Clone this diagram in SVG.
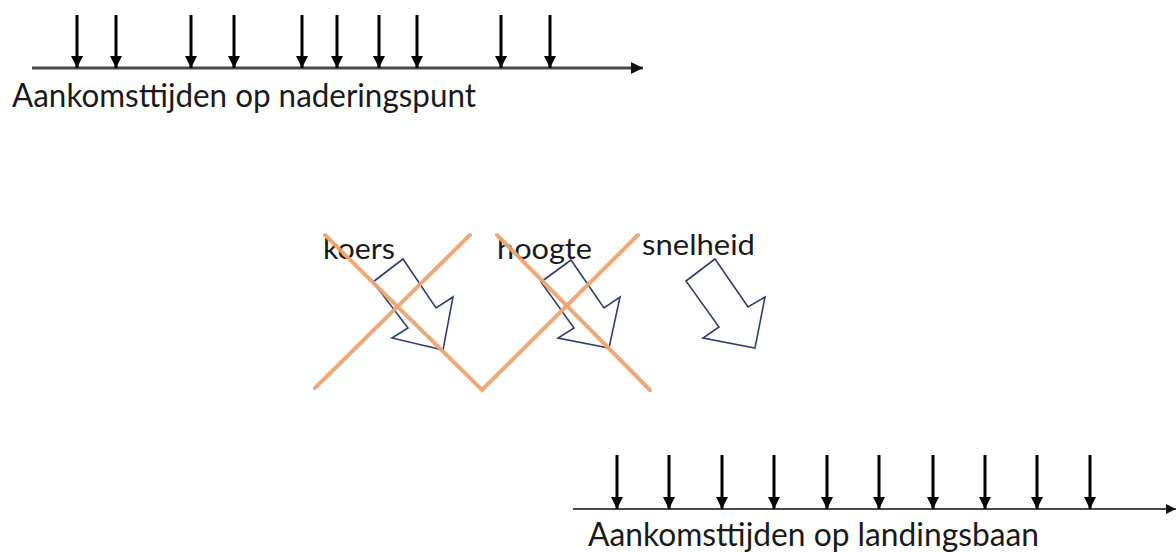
<svg xmlns="http://www.w3.org/2000/svg" width="1176" height="552" viewBox="0 0 1176 552">
<defs>
<style>
.lbl{font-family:Lato,"Open Sans","Liberation Sans",sans-serif;fill:#1a1a1a}
.axis{stroke:#4a4a4a;fill:none}
.tick{stroke:#000;stroke-width:3;fill:none}
.blk{fill:none;stroke:#2e3f6e;stroke-width:1.6;stroke-linejoin:miter}
.cross{stroke:#eda46f;stroke-width:4;fill:none;stroke-linecap:round;stroke-linejoin:miter;opacity:0.95}
</style>
<marker id="ah" viewBox="0 0 10 10" refX="10" refY="5" markerWidth="4" markerHeight="4.2" markerUnits="strokeWidth" orient="auto">
<path d="M0,0 L10,5 L0,10 z" fill="#000"/>
</marker>
<marker id="ax" viewBox="0 0 10 10" refX="10" refY="5" markerWidth="5" markerHeight="4" markerUnits="strokeWidth" orient="auto">
<path d="M0,0 L10,5 L0,10 z" fill="#111"/>
</marker>
<marker id="ax2" viewBox="0 0 10 10" refX="10" refY="5" markerWidth="6" markerHeight="5" markerUnits="strokeWidth" orient="auto">
<path d="M0,0 L10,5 L0,10 z" fill="#111"/>
</marker>
</defs>
<rect width="1176" height="552" fill="#fff"/>

<g id="top-timeline">
<line class="axis" x1="32" y1="68" x2="643" y2="68" stroke-width="3" marker-end="url(#ax)"/>
<g class="tick" marker-end="url(#ah)">
<line x1="77" y1="15" x2="77" y2="68"/>
<line x1="116" y1="15" x2="116" y2="68"/>
<line x1="191" y1="15" x2="191" y2="68"/>
<line x1="234" y1="15" x2="234" y2="68"/>
<line x1="302" y1="15" x2="302" y2="68"/>
<line x1="337" y1="15" x2="337" y2="68"/>
<line x1="379" y1="15" x2="379" y2="68"/>
<line x1="417" y1="15" x2="417" y2="68"/>
<line x1="501" y1="15" x2="501" y2="68"/>
<line x1="550" y1="15" x2="550" y2="68"/>
</g>
<text class="lbl" x="12" y="107" font-size="32" textLength="464" lengthAdjust="spacingAndGlyphs">Aankomsttijden op naderingspunt</text>
</g>

<g id="koers">
<polygon class="blk" points="373,282 403,259 436,308 453,297 443,350 392,338 408,328"/>
<text class="lbl" x="323" y="259" font-size="28" textLength="72" lengthAdjust="spacingAndGlyphs">koers</text>
</g>

<g id="hoogte">
<polygon class="blk" points="541,282 571,260 604,308 620,297 609,348 558,338 574,328"/>
<text class="lbl" x="497" y="259" font-size="28" textLength="95" lengthAdjust="spacingAndGlyphs">hoogte</text>
</g>

<g id="snelheid">
<polygon class="blk" points="686,281 715,259 748,307 765,297 755,348 703,338 719,327"/>
<text class="lbl" x="642" y="255" font-size="28" textLength="113" lengthAdjust="spacingAndGlyphs">snelheid</text>
</g>

<g id="crosses">
<line class="cross" x1="470" y1="235" x2="315" y2="388"/>
<polyline class="cross" points="325,235 482,390 638,235"/>
<line class="cross" x1="497" y1="235" x2="650" y2="390"/>
</g>

<g id="bottom-timeline">
<line class="axis" x1="573" y1="509" x2="1176" y2="509" stroke-width="2" stroke="#333" marker-end="url(#ax2)"/>
<g class="tick" marker-end="url(#ah)">
<line x1="617" y1="455" x2="617" y2="509"/>
<line x1="669" y1="455" x2="669" y2="509"/>
<line x1="722" y1="455" x2="722" y2="509"/>
<line x1="774" y1="455" x2="774" y2="509"/>
<line x1="827" y1="455" x2="827" y2="509"/>
<line x1="879" y1="455" x2="879" y2="509"/>
<line x1="933" y1="455" x2="933" y2="509"/>
<line x1="985" y1="455" x2="985" y2="509"/>
<line x1="1037" y1="455" x2="1037" y2="509"/>
<line x1="1090" y1="455" x2="1090" y2="509"/>
</g>
<text class="lbl" x="588" y="546" font-size="32" textLength="451" lengthAdjust="spacingAndGlyphs">Aankomsttijden op landingsbaan</text>
</g>
</svg>
